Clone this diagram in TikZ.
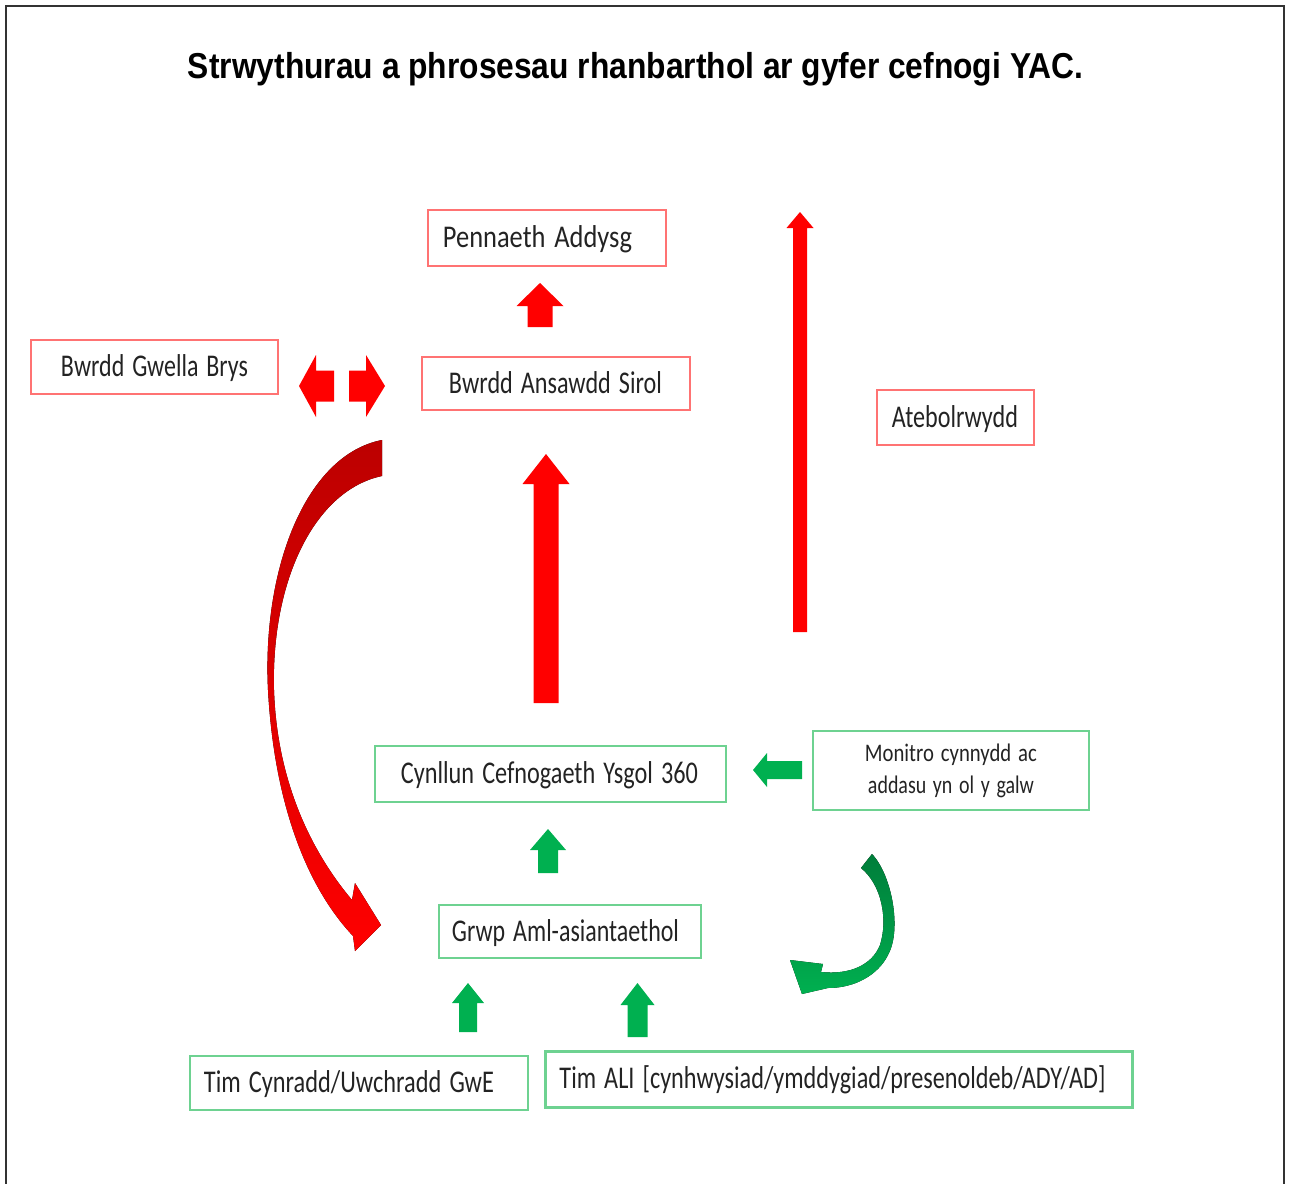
\documentclass[tikz,border=0pt]{standalone}
\usepackage{fontspec}
\usepackage{graphicx}
\setmainfont{Carlito}
\newfontfamily\titlefont{Liberation Sans}
\usetikzlibrary{shapes,backgrounds}

\definecolor{arrowred}{RGB}{255,0,0}
\definecolor{darkred}{RGB}{188,0,0}
\definecolor{arrowgreen}{RGB}{0,176,80}
\definecolor{darkgreen}{RGB}{0,125,58}
\definecolor{boxred}{RGB}{255,115,115}
\definecolor{boxgreen}{RGB}{110,210,145}
\definecolor{textgray}{RGB}{35,35,35}

\newlength\pxu
\setlength\pxu{0.02cm}
\newcommand\fitw[2]{\resizebox{#1\pxu}{\height}{#2}}

\tikzset{
	labelbox/.style={anchor=west, inner ysep=0pt, text height=11.3pt, text depth=0pt, align=left,
		text=textgray, font=\fontsize{18}{21}\selectfont, line width=1.1pt},
	redbox/.style={labelbox, draw=boxred},
	greenbox/.style={labelbox, draw=boxgreen}
}

\begin{document}
\begin{tikzpicture}[x=0.02cm, y=-0.02cm]
			\useasboundingbox (0,0) rectangle (1289,1184);
			\coordinate (topleft) at (6,6);
			\coordinate (topright) at (1284,6);
			\coordinate (bottom) at (0,1184);
			
			\draw[line width=1.1pt, black!80] (topleft |- bottom) -- (topleft) -- (topright) -- (topright |- bottom);
			\node[anchor=base, inner sep=0pt, font=\titlefont\bfseries\fontsize{20.5}{24}\selectfont] (title) at (635.5,78)
				{\fitw{895}{Strwythurau a phrosesau rhanbarthol ar gyfer cefnogi YAC.}};
			
			% red boxes
			\node[redbox, minimum height=56\pxu, inner xsep=15\pxu, text width=208\pxu] (pennaeth) at (427,238) {\fitw{189}{Pennaeth Addysg}};
			\node[redbox, minimum height=54\pxu, inner xsep=30\pxu, text width=187\pxu] (gwella) at (30,367) {\fitw{187}{Bwrdd Gwella Brys}};
			\node[redbox, minimum height=53\pxu, inner xsep=27\pxu, text width=214\pxu] (ansawdd) at (421,383.5) {\fitw{213}{Bwrdd Ansawdd Sirol}};
			\node[redbox, minimum height=55\pxu, inner xsep=15\pxu, text width=127\pxu] (atebol) at (876,417.5) {\fitw{126}{Atebolrwydd}};
			
			% green boxes
			\node[greenbox, minimum height=56\pxu, inner xsep=26\pxu, text width=299\pxu] (cynllun) at (374,774) {\fitw{297}{Cynllun Cefnogaeth Ysgol 360}};
			\node[draw=boxgreen, line width=1.1pt, anchor=west, minimum height=79\pxu, inner sep=0pt, inner xsep=10\pxu, text width=256\pxu,
				align=center, text=textgray, font=\fontsize{14.4}{18.1}\selectfont] (monitro) at (812,770.5)
				{\fitw{172}{Monitro cynnydd ac}\\\fitw{166}{addasu yn ol y galw}};
			\node[greenbox, minimum height=53\pxu, inner xsep=13\pxu, text width=236\pxu] (grwp) at (438,931.5) {\fitw{227}{Grwp Aml-asiantaethol}};
			\node[greenbox, minimum height=54\pxu, inner xsep=14\pxu, text width=310\pxu] (cynradd) at (189,1083) {\fitw{290}{Tim Cynradd/Uwchradd GwE}};
			\node[greenbox, line width=1.7pt, minimum height=56\pxu, inner xsep=14\pxu, text width=559\pxu] (ali) at (544,1079)
				{\fitw{546}{Tim ALI [cynhwysiad/ymddygiad/presenoldeb/ADY/AD]}};
			
			% block arrows: x / bottom / tip / shaft half / head half / head length
			\foreach \x/\yb/\yt/\sw/\hw/\hl/\c in {540/327/283/12.5/23.5/23/arrowred, 546/703/454/12.5/23.5/30/arrowred,
				800/632/212/7/13.5/16/arrowred, 548/873/829/10/18/21/arrowgreen,
				468/1032/983/9/16/20/arrowgreen, 637.5/1037/983/10/17/22/arrowgreen}
			\fill[\c] (\x-\sw,\yb) -- (\x-\sw,\yt+\hl) -- (\x-\hw,\yt+\hl) -- (\x,\yt) -- (\x+\hw,\yt+\hl) -- (\x+\sw,\yt+\hl) -- (\x+\sw,\yb) -- cycle;
			\foreach \xt/\y/\xe/\sw/\hw/\hl/\c in {299/386/334/15.5/31/17/arrowred, 385/386/349/15.5/31/-19/arrowred,
				753/770/802/9/17/14/arrowgreen}
			\fill[\c] (\xe,\y-\sw) -- (\xt+\hl,\y-\sw) -- (\xt+\hl,\y-\hw) -- (\xt,\y) -- (\xt+\hl,\y+\hw) -- (\xt+\hl,\y+\sw) -- (\xe,\y+\sw) -- cycle;
			
			% curved arrows
			\fill[top color=darkred, middle color=arrowred!85!darkred, bottom color=arrowred]
				(382,440) .. controls (305,455) and (262,570) .. (268,690) .. controls (274,800) and (305,885) .. (353,936)
				-- (355,951) -- (381,925) -- (355,883) -- (352,900)
				.. controls (310,850) and (277,780) .. (274,690) .. controls (271,580) and (315,490) .. (382,476) -- cycle;
			\fill[top color=darkgreen, bottom color=arrowgreen]
				(861,868) -- (872,854) .. controls (892,875) and (902,930) .. (888,955) .. controls (878,975) and (855,988) .. (828,988)
				-- (802,994) -- (790,960) -- (823,964) -- (821,972)
				.. controls (850,975) and (872,965) .. (880,945) .. controls (888,920) and (882,885) .. (861,868) -- cycle;
\end{tikzpicture}
\end{document}
